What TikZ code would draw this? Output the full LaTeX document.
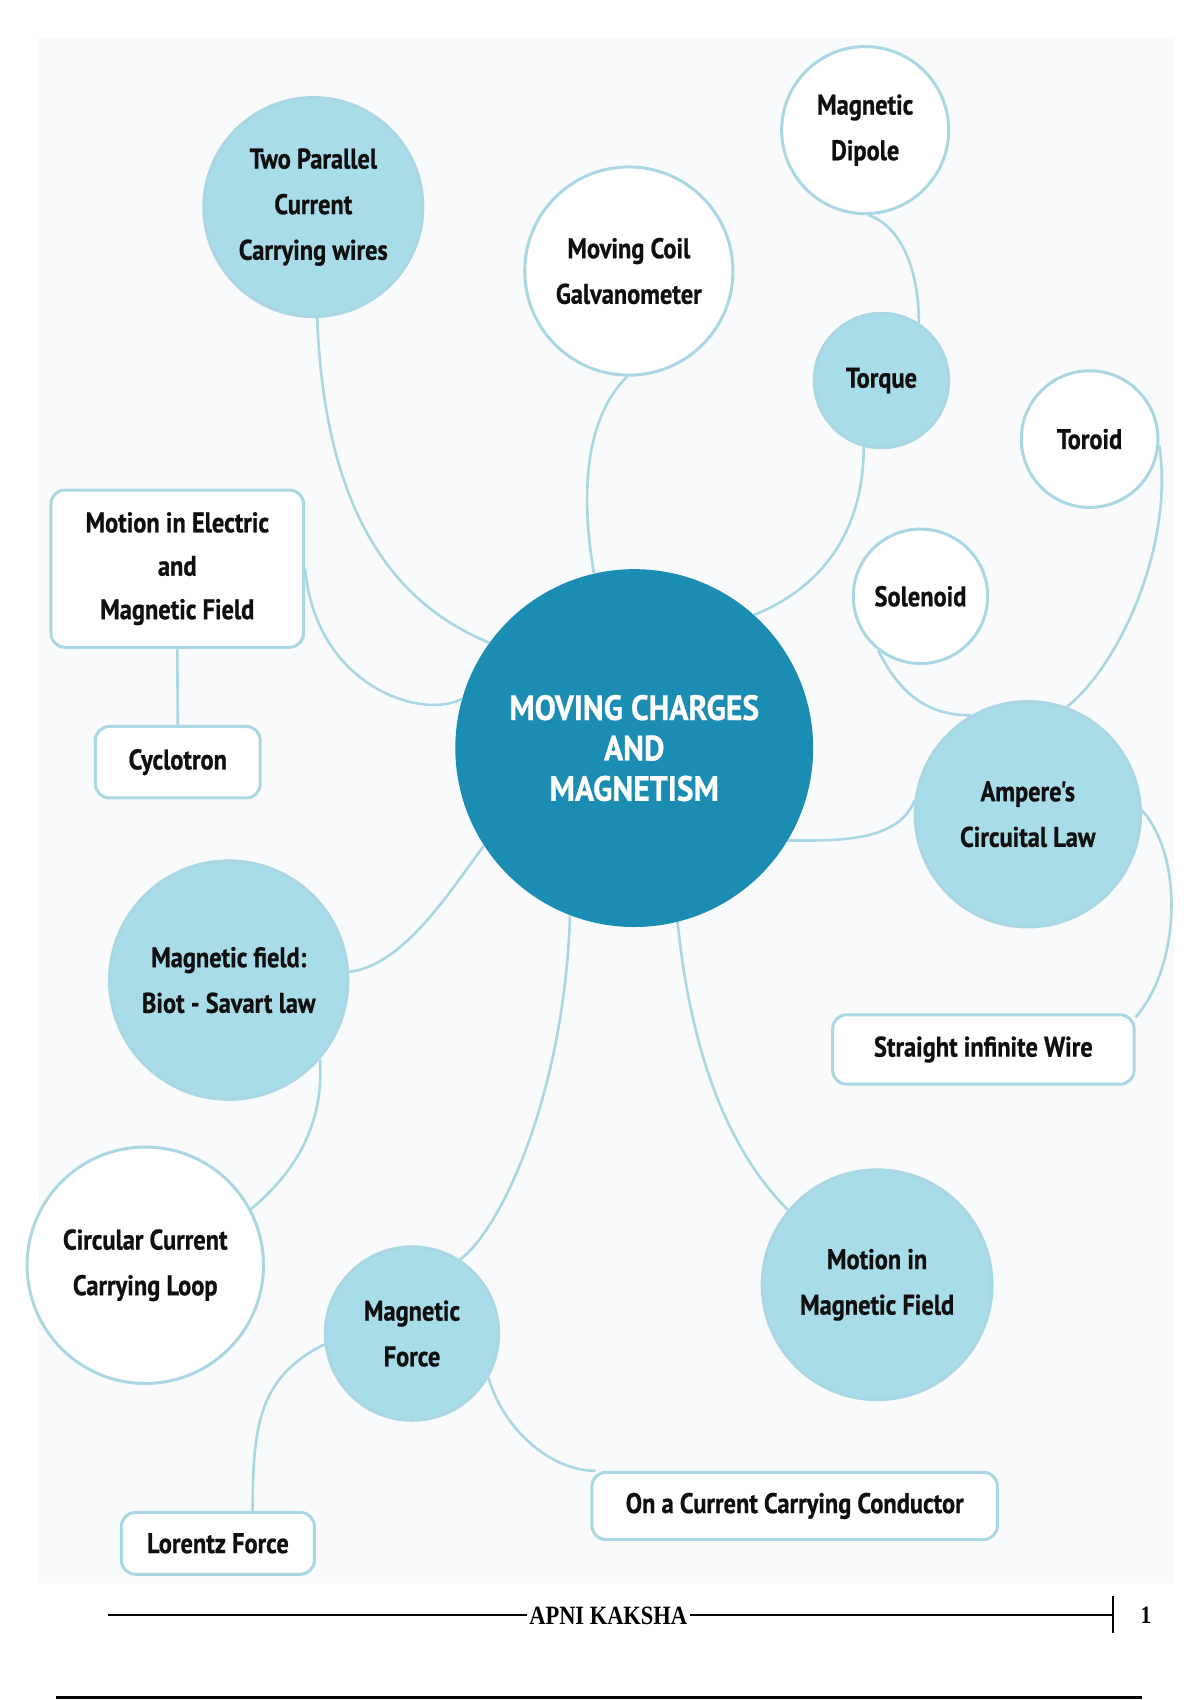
\documentclass[tikz,border=0pt]{standalone}
\usepackage{fontspec}
\newfontfamily\nodefont[FakeStretch=0.86,BoldFeatures={FakeBold=0.7}]{PT Sans}
\newfontfamily\hubfont[FakeStretch=0.9,BoldFeatures={FakeBold=0.6}]{PT Sans}
\newfontfamily\footfont[FakeStretch=0.85]{Liberation Serif}
\definecolor{hub}{RGB}{27,141,179}
\definecolor{lightfill}{RGB}{168,220,233}
\definecolor{edgeblue}{RGB}{170,215,228}
\definecolor{panel}{RGB}{249,250,251}
\definecolor{ink}{RGB}{15,15,15}
\begin{document}
\begin{tikzpicture}[x=0.542pt,y=-0.542pt,
  bubble/.style={circle,inner sep=0pt,draw=edgeblue,line width=1.5pt,align=center,
    font=\nodefont\bfseries\fontsize{14.2}{22.8}\selectfont,text=ink},
  filled/.style={bubble,fill=lightfill},
  hollow/.style={bubble,fill=white},
  tag/.style={rectangle,rounded corners=7pt,draw=edgeblue,line width=1.5pt,fill=white,
    align=center,inner sep=0pt,font=\nodefont\bfseries\fontsize{14.2}{21.7}\selectfont,text=ink},
  link/.style={draw=edgeblue,line width=1.3pt}]
\useasboundingbox (0,0) rectangle (1107,1568);
\fill[panel] (35,35) rectangle (1083,1460);

\node[circle,fill=hub,inner sep=0pt,minimum size=178.9pt,align=center,text=white,
  font=\hubfont\bfseries\fontsize{17.6}{20.2}\selectfont] (C) at (585,690)
  {MOVING CHARGES\\AND\\MAGNETISM};
\node[filled,minimum size=109.5pt] (TP) at (289,191) {Two Parallel\\Current\\Carrying wires};
\node[hollow,minimum size=104.1pt] (MC) at (580,250) {Moving Coil\\Galvanometer};
\node[hollow,minimum size=83.5pt] (MD) at (798,120) {Magnetic\\Dipole};
\node[filled,minimum size=67.2pt] (T) at (813,351) {Torque};
\node[hollow,minimum size=68.3pt] (To) at (1005,405) {Toroid};
\node[hollow,minimum size=67.2pt] (S) at (849,550) {Solenoid};
\node[filled,minimum size=112.7pt] (A) at (948,751) {Ampere's\\Circuital Law};
\node[tag,minimum width=126.3pt,minimum height=78.6pt] (ME) at (163.5,524.5) {Motion in Electric\\and\\Magnetic Field};
\node[tag,minimum width=82.4pt,minimum height=35.8pt] (Cy) at (164,703) {Cyclotron};
\node[filled,minimum size=119.2pt] (BS) at (211,904) {Magnetic field:\\Biot - Savart law};
\node[tag,minimum width=150.7pt,minimum height=34.7pt] (SW) at (907,968) {Straight infinite Wire};
\node[hollow,minimum size=118.2pt] (CL) at (134,1167) {Circular Current\\Carrying Loop};
\node[filled,minimum size=86.7pt] (MF) at (380,1230) {Magnetic\\Force};
\node[filled,minimum size=114.9pt] (MM) at (809,1185) {Motion in\\Magnetic Field};
\node[tag,minimum width=96.5pt,minimum height=30.9pt] (LF) at (201,1423.5) {Lorentz Force};
\node[tag,minimum width=202.7pt,minimum height=33.6pt] (OC) at (733,1389) {On a Current Carrying Conductor};

\begin{scope}[link]
\draw (TP.-88) .. controls +(7,190) and +(-80,-33) .. (C.144);
\draw (MC.-91) .. controls +(-40,40) and +(-12,-70) .. (C.103);
\draw (MD.-88) .. controls +(30,10) and +(0,-50) .. (T.57);
\draw (T.-105) .. controls +(0,90) and +(50,-20) .. (C.48);
\draw (ME.east) .. controls +(10,110) and +(-35,20) .. (C.164);
\draw (ME.south) -- (Cy.north);
\draw (BS.4) .. controls +(50,-5) and +(-30,40) .. (C.-147);
\draw (BS.-41) .. controls +(5,70) and +(30,-25) .. (CL.28);
\draw (C.-111) .. controls +(-5,160) and +(40,-30) .. (MF.57);
\draw (C.-76) .. controls +(15,150) and +(-40,-40) .. (MM.140);
\draw (MF.187) .. controls +(-60,30) and +(0,-80) .. (LF.43);
\draw (MF.-30) .. controls +(15,50) and +(-40,0) .. (OC.170);
\draw (A.173) .. controls +(-15,40) and +(40,0) .. (C.-31);
\draw (S.-128) .. controls +(20,40) and +(-40,0) .. (A.120);
\draw (To.-5) .. controls +(14,90) and +(50,-40) .. (A.70);
\draw (A.2) .. controls +(40,45) and +(40,-45) .. (SW.12);
\end{scope}

% footer
\node[font=\footfont\bfseries\fontsize{13.2}{15}\selectfont,inner sep=1pt] (foot) at (561,1490) {APNI KAKSHA};
\node[font=\footfont\bfseries\fontsize{12.5}{14}\selectfont,inner sep=1pt] (pg) at (1057,1490) {1};
\coordinate (fl) at (100,1490);
\coordinate (fr) at (1027,1490);
\coordinate (tt) at (1027,1472);
\coordinate (tb) at (1027,1506);
\draw[line width=1pt] (fl) -- (foot.west);
\draw[line width=1pt] (foot.east) -- (fr);
\draw[line width=1pt] (tt) -- (tb);
\coordinate (bl) at (52,1566);
\coordinate (br) at (1053,1566);
\draw[line width=1.5pt] (bl) -- (br);
\end{tikzpicture}
\end{document}
